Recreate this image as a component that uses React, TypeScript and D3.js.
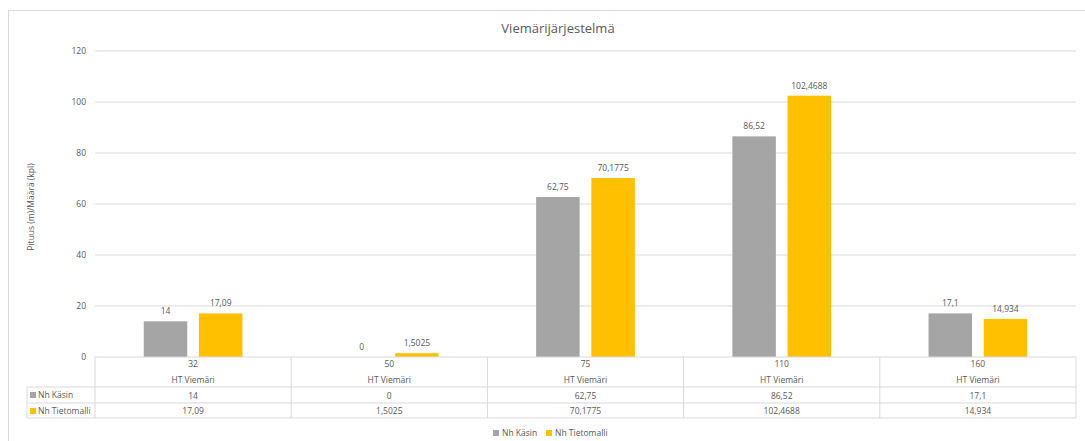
import React from "react";
import * as d3 from "d3";

const categories = ["32", "50", "75", "110", "160"];
const groupLabel = "HT Viemäri";
const seriesNames = ["Nh Käsin", "Nh Tietomalli"];
const kasin = [14, 0, 62.75, 86.52, 17.1];
const tietomalli = [17.09, 1.5025, 70.1775, 102.4688, 14.934];
const kasinLabels = ["14", "0", "62,75", "86,52", "17,1"];
const tietomalliLabels = ["17,09", "1,5025", "70,1775", "102,4688", "14,934"];
const yTicks = [0, 20, 40, 60, 80, 100, 120];
const colors = ["#a5a5a5", "#ffc000"];

const W = 1085;
const H = 441;
const left = 95;
const right = 1076;
const top = 51;
const bottom = 357;
const font = "'Open Sans', 'Noto Sans', sans-serif";
const txt = "#595959";
const grid = "#d9d9d9";

export default function App() {
  const x = d3.scaleBand<string>().domain(categories).range([left, right]).padding(0);
  const xs = d3
    .scaleBand<string>()
    .domain(seriesNames)
    .range([0, x.bandwidth()])
    .paddingInner(0.212)
    .paddingOuter(0.883);
  const y = d3.scaleLinear().domain([0, 120]).range([bottom, top]);
  const series = [
    { name: seriesNames[0], values: kasin, labels: kasinLabels, color: colors[0] },
    { name: seriesNames[1], values: tietomalli, labels: tietomalliLabels, color: colors[1] },
  ];
  const rowLines = [387, 403, 418];
  const legendLeft = 27;

  return (
    <svg
      width={W}
      height={H}
      style={{ position: "absolute", left: 0, top: 0, fontFamily: font }}
    >
      <rect x={0} y={0} width={W} height={H} fill="#fff" />
      <rect x={8.5} y={10.5} width={W + 20} height={H + 20} fill="none" stroke={grid} />
      <text x={558} y={33} textAnchor="middle" fontSize={13} fill={txt}>
        Viemärijärjestelmä
      </text>
      <text
        transform={`translate(34,${207}) rotate(-90)`}
        textAnchor="middle"
        fontSize={8.5}
        fill={txt}
      >
        Pituus (m)/Määrä (kpl)
      </text>
      {yTicks.map((t) => (
        <g key={t}>
          {t > 0 && (
            <line x1={left} x2={right} y1={y(t)} y2={y(t)} stroke={grid} strokeWidth={1} />
          )}
          <text x={86} y={y(t) + 3} textAnchor="end" fontSize={8.5} fill={txt}>
            {t}
          </text>
        </g>
      ))}
      {series.map((s) =>
        categories.map((c, i) => {
          const bx = (x(c) as number) + (xs(s.name) as number);
          const by = y(s.values[i]);
          return (
            <g key={s.name + c}>
              <rect
                x={bx}
                y={by}
                width={xs.bandwidth()}
                height={bottom - by}
                fill={s.color}
              />
              <text
                x={bx + xs.bandwidth() / 2}
                y={by - 7}
                textAnchor="middle"
                fontSize={8.5}
                fill={txt}
              >
                {s.labels[i]}
              </text>
            </g>
          );
        })
      )}
      {/* table */}
      <line x1={left} x2={right} y1={bottom} y2={bottom} stroke={grid} />
      <line x1={legendLeft} x2={right} y1={rowLines[0]} y2={rowLines[0]} stroke={grid} />
      <line x1={legendLeft} x2={right} y1={rowLines[1]} y2={rowLines[1]} stroke={grid} />
      <line x1={legendLeft} x2={right} y1={rowLines[2]} y2={rowLines[2]} stroke={grid} />
      <line x1={legendLeft} x2={legendLeft} y1={rowLines[0]} y2={rowLines[2]} stroke={grid} />
      {categories.map((c) => (
        <line
          key={"v" + c}
          x1={x(c) as number}
          x2={x(c) as number}
          y1={bottom}
          y2={rowLines[2]}
          stroke={grid}
        />
      ))}
      <line x1={right} x2={right} y1={bottom} y2={rowLines[2]} stroke={grid} />
      {categories.map((c, i) => {
        const cx = (x(c) as number) + x.bandwidth() / 2;
        return (
          <g key={"t" + c} fontSize={8.5} fill={txt} textAnchor="middle">
            <text x={cx} y={367}>
              {c}
            </text>
            <text x={cx} y={383}>
              {groupLabel}
            </text>
            <text x={cx} y={398.5}>
              {kasinLabels[i]}
            </text>
            <text x={cx} y={414}>
              {tietomalliLabels[i]}
            </text>
          </g>
        );
      })}
      {series.map((s, k) => (
        <g key={"lg" + s.name}>
          <rect x={30} y={rowLines[k] + 5} width={6} height={6} fill={s.color} />
          <text x={38} y={rowLines[k] + 11} fontSize={8.5} fill={txt}>
            {s.name}
          </text>
        </g>
      ))}
      {/* legend */}
      {series.map((s, k) => {
        const lx = k === 0 ? 493 : 546;
        return (
          <g key={"leg" + s.name}>
            <rect x={lx} y={430} width={6} height={6} fill={s.color} />
            <text x={lx + 9} y={436} fontSize={8.5} fill={txt}>
              {s.name}
            </text>
          </g>
        );
      })}
    </svg>
  );
}
